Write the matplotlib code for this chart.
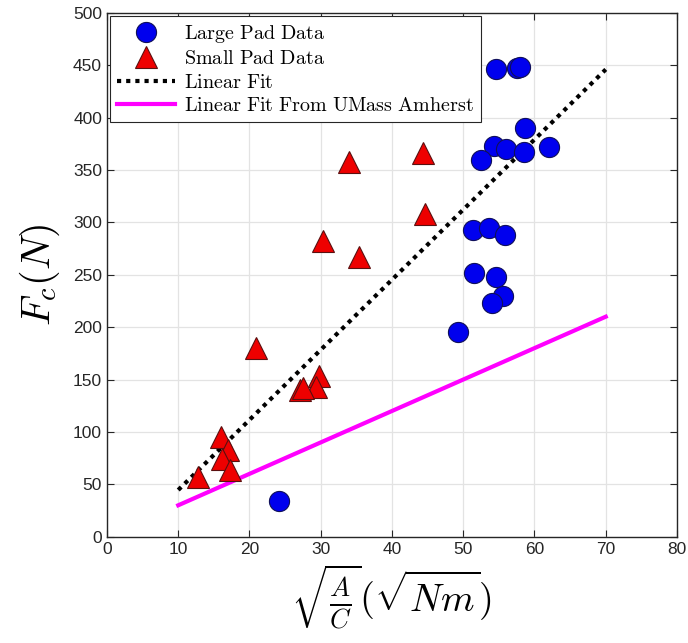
import matplotlib
matplotlib.use("Agg")
import matplotlib.pyplot as plt
import numpy as np

plt.rcParams['font.family'] = ['Liberation Sans', 'DejaVu Sans']
plt.rcParams['mathtext.fontset'] = 'cm'

# large pad data
large_x = [24.2, 49.3, 54.6, 57.6, 58.0, 58.7, 54.3, 56.0, 58.5, 62.0, 52.5,
           51.4, 53.6, 55.9, 51.5, 54.6, 55.6, 54.0]
large_y = [34, 195, 446, 447, 448, 390, 373, 370, 367, 372, 360,
           293, 295, 288, 252, 248, 230, 223]

# small pad data
small_x = [34.0, 44.4, 44.6, 30.3, 35.4, 20.9, 29.7, 29.3, 27.1, 27.5,
           16.0, 17.0, 16.1, 17.3, 12.8]
small_y = [358, 366, 308, 282, 267, 180, 153, 143, 140, 142,
           95, 83, 74, 64, 57]

# fits: y = slope * x + intercept, drawn over x in [10, 70]
fit_range = [10, 70]
fit_coef = [6.69, -22.3]
umass_coef = [3.0, 0.0]

fig = plt.figure(figsize=(6.88, 6.43), dpi=100)
ax = fig.add_axes([0.1555, 0.1653, 0.8285, 0.8147])

xf = np.array(fit_range)
ax.plot(large_x, large_y, 'o', color='#0000ee', markeredgecolor='#10105a',
        markeredgewidth=0.8, markersize=14.5, label=r'$\mathrm{Large\ Pad\ Data}$', zorder=3)
ax.plot(small_x, small_y, '^', color='#ee0000', markeredgecolor='#5a1010',
        markeredgewidth=0.8, markersize=16, label=r'$\mathrm{Small\ Pad\ Data}$', zorder=3)
ax.plot(xf, np.polyval(fit_coef, xf), color='black', linestyle=(0, (1, 1.2)),
        linewidth=3, label=r'$\mathrm{Linear\ Fit}$', zorder=2)
ax.plot(xf, np.polyval(umass_coef, xf), color='#ff00ff', linewidth=3,
        label=r'$\mathrm{Linear\ Fit\ From\ UMass\ Amherst}$', zorder=2)

ax.set_xlim(0, 80)
ax.set_ylim(0, 500)
ax.set_xticks(range(0, 81, 10))
ax.set_yticks(range(0, 501, 50))
ax.grid(True, color='#e3e3e3', linewidth=0.9)
ax.set_axisbelow(True)
ax.tick_params(direction='in', top=True, right=True, labelsize=12.5, length=5,
               colors='#262626', labelcolor='#262626')
for s in ax.spines.values():
    s.set_color('#262626')
    s.set_linewidth(1)

ax.set_xlabel(r'$\sqrt{\frac{A}{C}}(\sqrt{Nm})$', fontsize=27.5, labelpad=4)
ax.set_ylabel(r'$F_c(N)$', fontsize=29, labelpad=8)

leg = ax.legend(loc='upper left', fontsize=14.5, handlelength=2.9, borderpad=0.35,
                labelspacing=0.22, handletextpad=0.4, fancybox=False, framealpha=1,
                borderaxespad=0.15)
leg.get_frame().set_edgecolor('#262626')
leg.get_frame().set_linewidth(0.8)

fig.savefig('out.png', dpi=100)
